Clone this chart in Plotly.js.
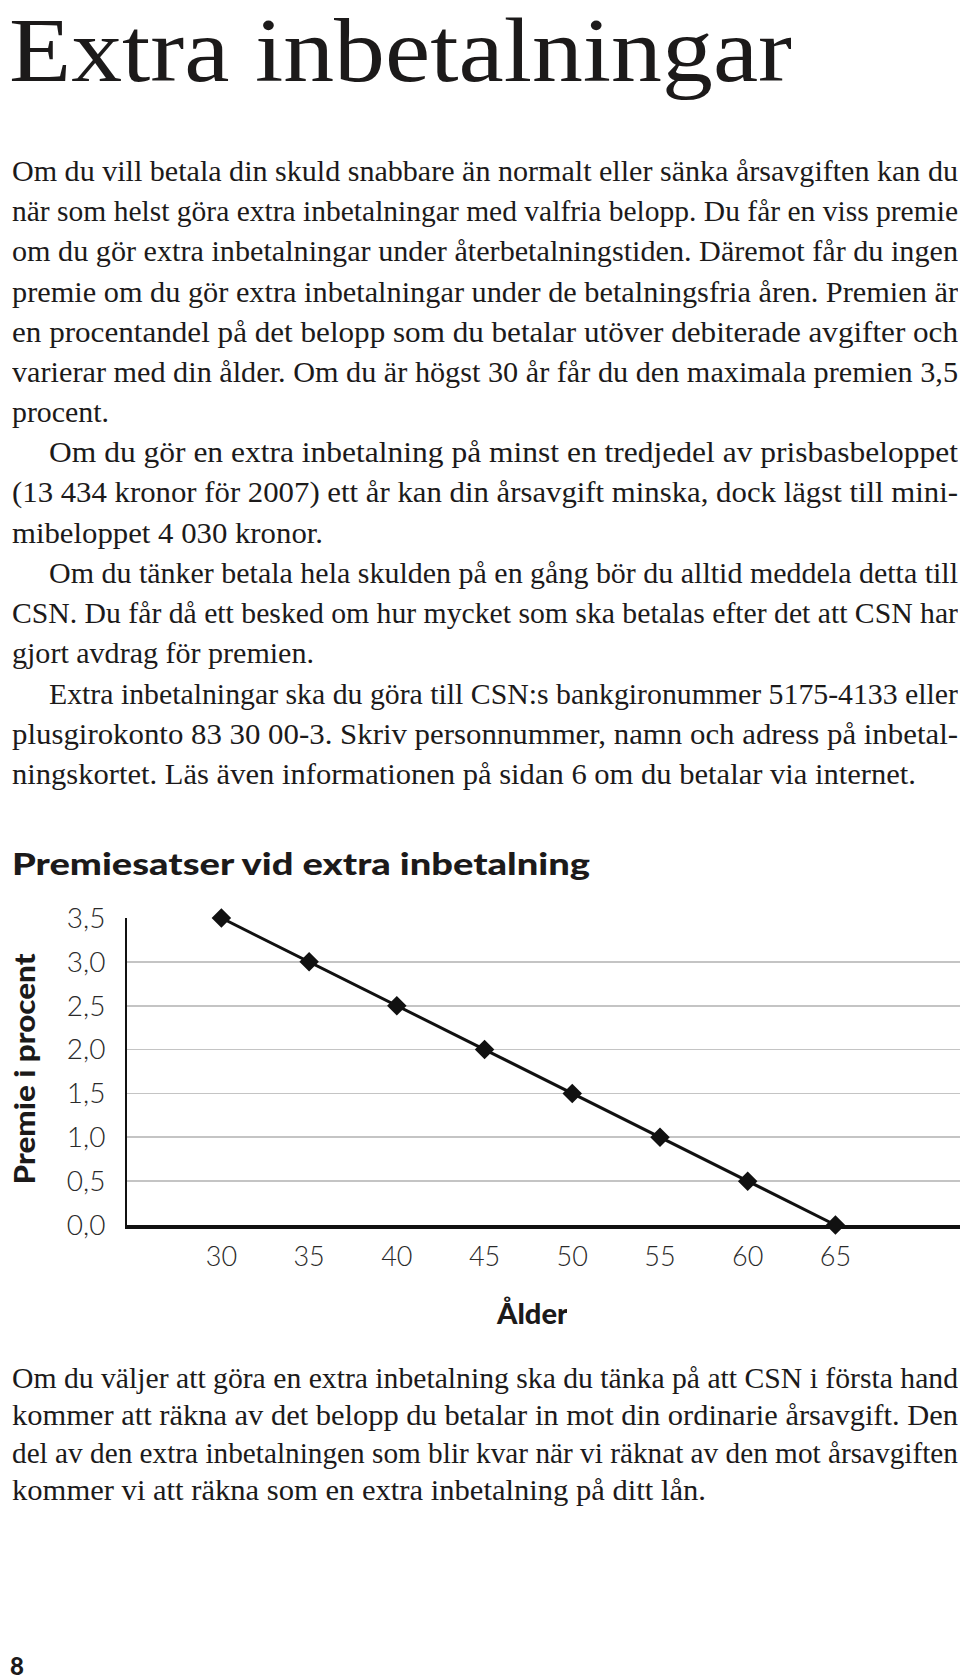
<!DOCTYPE html>
<html>
<head>
<meta charset="utf-8">
<script src="https://cdn.plot.ly/plotly-3.0.1.min.js"></script>
<style>
  html, body { margin: 0; padding: 0; background: #ffffff; }
  #chart { width: 960px; height: 1680px; }
</style>
</head>
<body>
<div id="chart"></div>
<script>
// ---------- chart data ----------
const ages = [30, 35, 40, 45, 50, 55, 60, 65];
const premie = [3.5, 3.0, 2.5, 2.0, 1.5, 1.0, 0.5, 0.0];
const yTickVals = [0, 0.5, 1, 1.5, 2, 2.5, 3, 3.5];
const yTickLabels = ['0,0', '0,5', '1,0', '1,5', '2,0', '2,5', '3,0', '3,5'];
const xTickVals = [30, 35, 40, 45, 50, 55, 60, 65];
const xTickLabels = ['30', '35', '40', '45', '50', '55', '60', '65'];

// ---------- text content ----------
const pageTitle = 'Extra inbetalningar';
const chartTitle = 'Premiesatser vid extra inbetalning';
const yTitle = 'Premie i procent';
const xTitle = 'Ålder';
const pageNumber = '8';
const bodyLines = [
  'Om du vill betala din skuld snabbare än normalt eller sänka årsavgiften kan du',
  'när som helst göra extra inbetalningar med valfria belopp. Du får en viss premie',
  'om du gör extra inbetalningar under återbetalningstiden. Däremot får du ingen',
  'premie om du gör extra inbetalningar under de betalningsfria åren. Premien är',
  'en procentandel på det belopp som du betalar utöver debiterade avgifter och',
  'varierar med din ålder. Om du är högst 30 år får du den maximala premien 3,5',
  'procent.',
  'Om du gör en extra inbetalning på minst en tredjedel av prisbasbeloppet',
  '(13 434 kronor för 2007) ett år kan din årsavgift minska, dock lägst till mini-',
  'mibeloppet 4 030 kronor.',
  'Om du tänker betala hela skulden på en gång bör du alltid meddela detta till',
  'CSN. Du får då ett besked om hur mycket som ska betalas efter det att CSN har',
  'gjort avdrag för premien.',
  'Extra inbetalningar ska du göra till CSN:s bankgironummer 5175-4133 eller',
  'plusgirokonto 83 30 00-3. Skriv personnummer, namn och adress på inbetal-',
  'ningskortet. Läs även informationen på sidan 6 om du betalar via internet.'
];
const footLines = [
  'Om du väljer att göra en extra inbetalning ska du tänka på att CSN i första hand',
  'kommer att räkna av det belopp du betalar in mot din ordinarie årsavgift. Den',
  'del av den extra inbetalningen som blir kvar när vi räknat av den mot årsavgiften',
  'kommer vi att räkna som en extra inbetalning på ditt lån.'
];

// ---------- layout helpers (pixel positions on the 960x1680 page) ----------
const W = 960, H = 1680;
const px = x => x / W;
const py = y => 1 - y / H;
const SERIF = '"Liberation Serif", "Times New Roman", serif';
const SANS = 'Lato, "Open Sans", "DejaVu Sans", sans-serif';
const INK = '#1c1a1a';

// line layout: left edge, right edge (target), centre y
const bodyLeft  = [11, 11, 11, 11, 11, 11, 11, 48, 11, 11, 48, 11, 11, 48, 11, 11];
const bodyRight = [957, 957, 957, 957, 957, 957, 108, 957, 957, 322, 957, 957, 313, 957, 957, 915];
const bodyY0 = 171, bodyStep = 40.2;
const footRight = [957, 957, 957, 705];
const footY0 = 1378, footStep = 37.3;

const annotations = [];
const targets = []; // target text widths, in annotation order

function addText(text, x, y, font, width, extra) {
  const a = Object.assign({
    text: text, xref: 'paper', yref: 'paper', x: px(x), y: py(y),
    xanchor: 'left', yanchor: 'middle', align: 'left', showarrow: false,
    font: font, borderpad: 0
  }, extra || {});
  if (width && !a.textangle) a.width = width;
  annotations.push(a);
  targets.push(width);
}

addText(pageTitle, 8, 0, {family: SERIF, size: 90, color: INK}, 783, {yanchor: 'top'});
bodyLines.forEach((t, i) => {
  addText(t, bodyLeft[i], bodyY0 + i * bodyStep, {family: SERIF, size: 29, color: INK},
          bodyRight[i] - bodyLeft[i]);
});
footLines.forEach((t, i) => {
  addText(t, 11, footY0 + i * footStep, {family: SERIF, size: 29, color: INK},
          footRight[i] - 11);
});
addText(chartTitle, 11, 863, {family: SANS, size: 31, color: INK, weight: 900}, 578);
addText(xTitle, 495, 1313, {family: SANS, size: 28, color: INK, weight: 900}, 71);
addText(yTitle, 24, 1069, {family: SANS, size: 28, color: INK, weight: 900}, 231,
        {xanchor: 'center', align: 'center', textangle: -90});
addText(pageNumber, 9, 1665, {family: SANS, size: 24, color: INK, weight: 900}, null);

const trace = {
  x: ages, y: premie, type: 'scatter', mode: 'lines+markers',
  line: {color: '#111111', width: 3},
  marker: {symbol: 'diamond', size: 15, color: '#111111'},
  cliponaxis: false, hoverinfo: 'skip'
};

const layout = {
  width: W, height: H, autosize: false,
  margin: {l: 0, r: 0, t: 0, b: 0, pad: 0},
  paper_bgcolor: '#ffffff', plot_bgcolor: '#ffffff',
  showlegend: false,
  xaxis: {
    domain: [px(127), 1], range: [24.62, 72.1],
    tickvals: xTickVals, ticktext: xTickLabels, ticks: '',
    showgrid: false, zeroline: false,
    showline: true, linecolor: '#111111', linewidth: 3.5,
    ticklabelstandoff: 5,
    tickfont: {family: SANS, size: 27, color: '#2a2a2a', weight: 300}
  },
  yaxis: {
    domain: [py(1225), py(918)], range: [0, 3.5],
    tickvals: yTickVals, ticktext: yTickLabels, ticks: '',
    showgrid: true, gridcolor: '#c4c4c4', gridwidth: 1.6,
    zeroline: false,
    showline: true, linecolor: '#111111', linewidth: 2,
    ticklabelstandoff: 14,
    tickfont: {family: SANS, size: 28, color: '#2a2a2a', weight: 300}
  },
  annotations: annotations
};

Plotly.newPlot('chart', [trace], layout, {staticPlot: true, displayModeBar: false}).then(() => {
  document.querySelectorAll('g.annotation').forEach(g => {
    const idx = +g.getAttribute('data-index');
    const w = targets[idx];
    if (!w) return;
    const t = g.querySelector('text.annotation-text');
    if (!t) return;
    t.setAttribute('textLength', w);
    t.setAttribute('lengthAdjust', 'spacingAndGlyphs');
  });
});
</script>
</body>
</html>
